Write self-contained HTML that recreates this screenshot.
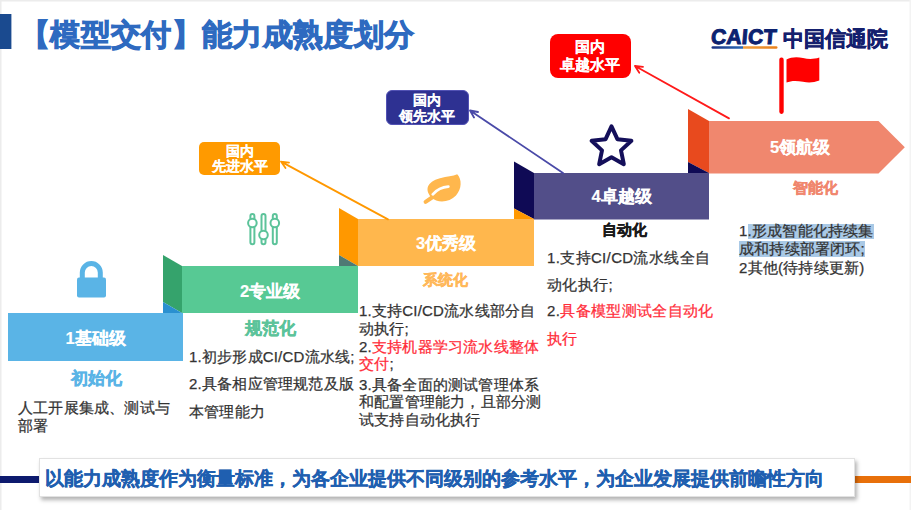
<!DOCTYPE html>
<html><head><meta charset="utf-8">
<style>
html,body{margin:0;padding:0;background:#fff;}
body{width:911px;height:510px;position:relative;overflow:hidden;font-family:"Liberation Sans",sans-serif;}
.a{position:absolute;white-space:nowrap;}
.lbl{color:#fff;font-weight:bold;font-size:16.5px;text-align:center;-webkit-text-stroke:0.15px #fff;}
.sub{font-weight:bold;font-size:17px;text-align:center;-webkit-text-stroke:0.4px currentColor;}
.t{position:absolute;white-space:nowrap;font-size:15px;line-height:18px;color:#333;letter-spacing:0.2px;-webkit-text-stroke:0.25px currentColor;}
.red{color:#ff2d3a;}
.box{position:absolute;color:#fff;font-weight:bold;text-align:center;}
</style></head><body>
<svg class="a" style="left:0;top:0" width="911" height="510" viewBox="0 0 911 510">
  <rect x="0" y="0" width="911" height="1.5" fill="#ececec"/>
  <rect x="0" y="0" width="1.5" height="510" fill="#ececec"/>
  <rect x="909.5" y="0" width="1.5" height="510" fill="#f3f3f3"/>
  <rect x="0" y="14" width="11.4" height="35" fill="#1a4a8f"/>
  <!-- step1 -->
  <rect x="8" y="313" width="175" height="48" fill="#5ab4e6"/>
  <!-- step2 -->
  <polygon points="163,255 182,266 182,313 163,302" fill="#35a36c"/>
  <polygon points="163,302 182,313 163,313" fill="#2a90d0"/>
  <rect x="182" y="266" width="176" height="47" fill="#57c994"/>
  <!-- step3 -->
  <polygon points="339,208 358,219 358,266 339,255" fill="#ff9800"/>
  <polygon points="339,255 358,266 339,266" fill="#4f7a74"/>
  <rect x="358" y="219" width="176" height="47" fill="#ffb74d"/>
  <!-- step4 -->
  <polygon points="514,161.5 534,173 534,219 514,208.5" fill="#0f0a55"/>
  <polygon points="514,208.5 534,219 514,219" fill="#ff9800"/>
  <rect x="534" y="173" width="175" height="46.5" fill="#524e89"/>
  <!-- step5 -->
  <polygon points="688,109 709,121 709,173 688,162" fill="#e84a1e"/>
  <polygon points="688,162 709,173 688,173" fill="#0f0a55"/>
  <polygon points="709,121 878.5,121 904.8,147.2 878.5,173.5 709,173.5" fill="#f0876e"/>
  <!-- arrows -->
  <g fill="none" stroke-width="1.8" stroke-linecap="round" stroke-linejoin="round">
    <path d="M388,219.4 L281,161.6 M281,161.6 l8,1 M281,161.6 l4.5,6.5" stroke="#ff9800"/>
    <path d="M563,173 L470,110.5 M470,110.5 l8,1.5 M470,110.5 l4,7" stroke="#4a4aa8"/>
    <path d="M729,118.4 L635,66 M635,66 l8,0.8 M635,66 l4.3,6.8" stroke="#ff1a1a"/>
  </g>
  <!-- flag -->
  <rect x="779.3" y="57.6" width="4.4" height="56.3" rx="2.1" fill="#ff0000"/>
  <path d="M786.5,59.5 C791,57 797,56.5 803,58 C809,59.5 814,59.2 819.3,57.5 L819.3,80.5 C814,82.5 809,83 803,81.8 C797,80.5 791,80.5 786.5,82.5 Z" fill="#ff0000"/>
  <!-- lock -->
  <path d="M82.3,278 V272.6 A9,9 0 0 1 100.3,272.6 V278" fill="none" stroke="#5ab4e6" stroke-width="5"/>
  <rect x="77" y="277.6" width="29" height="20" rx="2" fill="#5ab4e6"/>
  <!-- sliders -->
  <g fill="#fff" stroke="#5cc39a" stroke-width="2">
    <rect x="250.4" y="214" width="4" height="30.3" rx="2"/>
    <rect x="261.5" y="214" width="4" height="30.3" rx="2"/>
    <rect x="272.8" y="214" width="4" height="30.3" rx="2"/>
    <circle cx="252.4" cy="223" r="4.3"/>
    <circle cx="263.5" cy="235" r="4.3"/>
    <circle cx="274.8" cy="223" r="4.3"/>
  </g>
  <!-- leaf -->
  <path d="M431.5,197.5 C424.5,190 426.5,182 440,178.2 C447,176.3 453,176.5 457.2,174.3 C462,179 462,189 456,195.5 C449.5,202.5 437.5,203.5 431.5,197.5 Z" fill="#ffb74d"/>
  <path d="M432,197.5 L425.6,201.8" stroke="#ffb74d" stroke-width="4" stroke-linecap="round"/>
  <path d="M432.8,194.3 C437,189.5 442.5,187 448.3,186.6" fill="none" stroke="#fff" stroke-width="2.8" stroke-linecap="round"/>
  <!-- star -->
  <path d="M611.5,126.4 L617.4,139.2 L631.4,140.8 L621.0,150.4 L623.8,164.2 L611.5,157.3 L599.2,164.2 L602.0,150.4 L591.6,140.8 L605.6,139.2 Z" fill="none" stroke="#140f5a" stroke-width="4" stroke-linejoin="round"/>
  <!-- bottom lines -->
  <rect x="0" y="476" width="39" height="7" fill="#0d1a6e"/>
  <rect x="855" y="476" width="56" height="7" fill="#e8700a"/>
  <!-- logo underline -->
  <defs><linearGradient id="ug" x1="0" x2="1"><stop offset="0" stop-color="#1a2f80"/><stop offset="0.48" stop-color="#2a6ab8"/><stop offset="0.48" stop-color="#f0a040"/><stop offset="1" stop-color="#e8801a"/></linearGradient></defs>
  <rect x="711.5" y="46.2" width="66" height="2.6" rx="1.3" fill="url(#ug)"/>
</svg>

<!-- title -->
<div class="a" style="left:20px;top:15px;font-size:30px;letter-spacing:0.35px;font-weight:bold;color:#2e6ac0;-webkit-text-stroke:1px #2e6ac0;">【模型交付】能力成熟度划分</div>

<!-- logo -->
<div class="a" style="left:710px;top:24.5px;font-size:21px;letter-spacing:0.3px;font-weight:bold;color:#0c2270;-webkit-text-stroke:1px #0c2270;transform:skewX(-5deg);transform-origin:0 100%;">CAICT</div>
<div class="a" style="left:783px;top:25px;font-size:21px;font-weight:bold;color:#15206e;-webkit-text-stroke:0.5px #15206e;">中国信通院</div>

<!-- callouts -->
<div class="box" style="left:199px;top:141.5px;width:81px;height:33.5px;border-radius:5px;background:#ff9a00;"></div>
<div class="box" style="left:385.6px;top:89.8px;width:83px;height:35.4px;border-radius:6px;background:#2e3192;border:1px solid #5252b4;box-sizing:border-box;"></div>
<div class="box" style="left:549.5px;top:33.5px;width:81px;height:44px;border-radius:8px;background:#ff0000;"></div>

<!-- step labels -->
<div class="a lbl" style="left:8px;top:328px;width:175px;">1基础级</div>
<div class="a lbl" style="left:182px;top:281px;width:176px;">2专业级</div>
<div class="a lbl" style="left:358px;top:232.5px;width:176px;">3优秀级</div>
<div class="a lbl" style="left:534px;top:186px;width:175px;">4卓越级</div>
<div class="a lbl" style="left:705px;top:137px;width:190px;">5领航级</div>

<!-- sub titles -->
<div class="a sub" style="left:46px;top:366.5px;width:100px;color:#5ab4e6;">初始化</div>
<div class="a sub" style="left:220px;top:316.5px;width:100px;color:#5cc39a;">规范化</div>
<div class="a sub" style="left:395px;top:271px;width:100px;color:#ffb85a;font-size:15px;">系统化</div>
<div class="a sub" style="left:574px;top:220.5px;width:100px;color:#1a1a1a;font-size:15px;">自动化</div>
<div class="a sub" style="left:765px;top:178.5px;width:100px;color:#f0876e;font-size:15px;">智能化</div>

<!-- step1 text -->
<div class="t" style="left:18px;top:398.7px;">人工开展集成、测试与</div>
<div class="t" style="left:18px;top:416.8px;">部署</div>
<!-- step2 text -->
<div class="t" style="left:189px;top:348px;">1.初步形成CI/CD流水线;</div>
<div class="t" style="left:189px;top:375px;">2.具备相应管理规范及版</div>
<div class="t" style="left:189px;top:403px;">本管理能力</div>
<!-- step3 text -->
<div class="t" style="left:359px;top:302.3px;">1.支持CI/CD流水线部分自</div>
<div class="t" style="left:359px;top:319.7px;">动执行;</div>
<div class="t" style="left:359px;top:338.3px;">2.<span class="red">支持机器学习流水线整体</span></div>
<div class="t" style="left:359px;top:355.4px;"><span class="red">交付</span>;</div>
<div class="t" style="left:359px;top:375.8px;">3.具备全面的测试管理体系</div>
<div class="t" style="left:359px;top:393.4px;">和配置管理能力，且部分测</div>
<div class="t" style="left:359px;top:411.2px;">试支持自动化执行</div>
<!-- step4 text -->
<div class="t" style="left:547px;top:248.7px;letter-spacing:0.35px;">1.支持CI/CD流水线全自</div>
<div class="t" style="left:547px;top:275.6px;letter-spacing:0.35px;">动化执行;</div>
<div class="t" style="left:547px;top:302.2px;letter-spacing:0.35px;">2.<span class="red">具备模型测试全自动化</span></div>
<div class="t" style="left:547px;top:329.7px;letter-spacing:0.35px;"><span class="red">执行</span></div>
<!-- step5 text -->
<div class="a" style="left:747.5px;top:223.6px;width:126px;height:15.2px;background:#a9c9e6;"></div>
<div class="a" style="left:738.8px;top:241.2px;width:126.6px;height:16.3px;background:#a9c9e6;"></div>
<div class="t" style="left:739px;top:222px;">1.形成智能化持续集</div>
<div class="t" style="left:739px;top:240.2px;">成和持续部署闭环;</div>
<div class="t" style="left:739px;top:259px;">2其他(待持续更新)</div>

<!-- callout text -->
<div class="box" style="left:199px;top:143.5px;width:81px;font-size:13.5px;line-height:15.3px;-webkit-text-stroke:0.1px #fff;">国内<br>先进水平</div>
<div class="box" style="left:385.5px;top:93px;width:82px;font-size:13.5px;line-height:16px;-webkit-text-stroke:0.1px #fff;">国内<br>领先水平</div>
<div class="box" style="left:549.5px;top:38px;width:81px;font-size:15px;line-height:17.8px;-webkit-text-stroke:0.1px #fff;">国内<br>卓越水平</div>

<!-- bottom banner -->
<div class="a" style="left:39px;top:458px;width:816px;height:39px;background:#fff;border:1px solid #e2e2e2;box-sizing:border-box;box-shadow:2px 3px 4px rgba(0,0,0,0.3);"></div>
<div class="a" style="left:45px;top:466px;font-size:19px;font-weight:bold;color:#1f5fb0;-webkit-text-stroke:0.4px #1f5fb0;">以能力成熟度作为衡量标准，为各企业提供不同级别的参考水平，为企业发展提供前瞻性方向</div>
</body></html>
